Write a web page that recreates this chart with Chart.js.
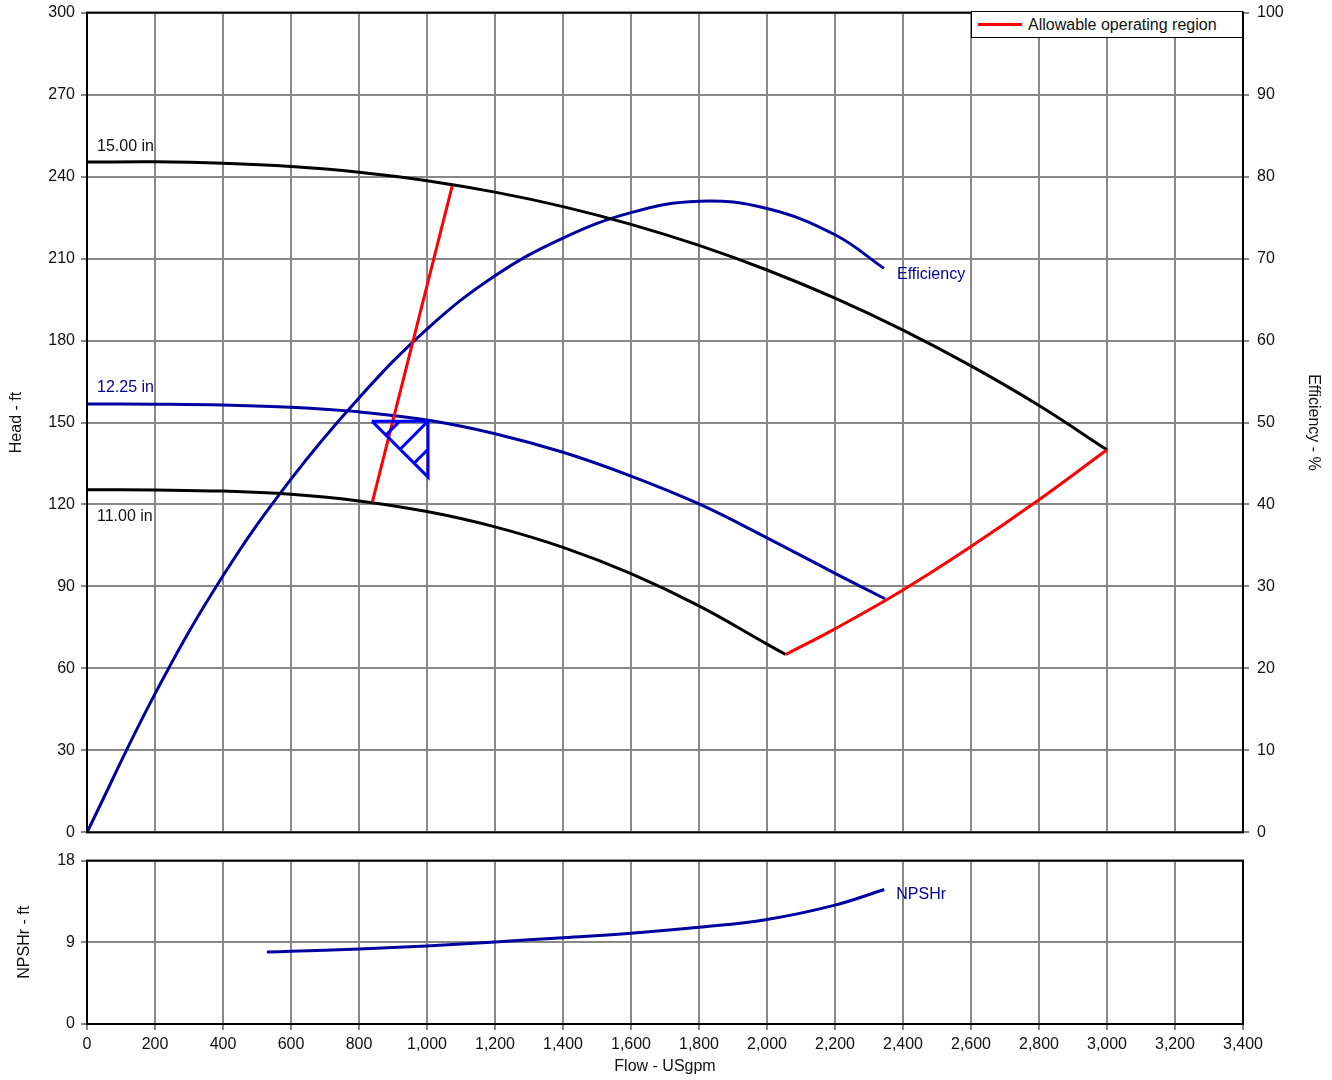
<!DOCTYPE html>
<html>
<head>
<meta charset="utf-8">
<script src="https://cdn.jsdelivr.net/npm/chart.js@4.4.1/dist/chart.umd.min.js"></script>
<style>
  html, body { margin: 0; padding: 0; background: #fff; }
  body { width: 1332px; height: 1080px; position: relative; overflow: hidden; font-family: "Liberation Sans", Arial, sans-serif; }
  #c1 { position: absolute; left: 0; top: -5px; }
  #c2 { position: absolute; left: 0; top: 845px; }
  #legend { position: absolute; left: 971px; top: 11px; width: 270px; height: 25px; border: 1.5px solid #000; background: #fff;
            font: 16px "Liberation Sans", Arial, sans-serif; color: #111; display: flex; align-items: center; box-sizing: content-box; }
  #legend .sw { display: inline-block; width: 44px; height: 3px; margin-left: 6px; margin-right: 6px; }
</style>
</head>
<body>
<canvas id="c1" width="1332" height="855"></canvas>
<canvas id="c2" width="1332" height="235"></canvas>
<div id="legend"></div>
<script>
// ---------------- DATA ----------------
const flowTicks = [0,200,400,600,800,1000,1200,1400,1600,1800,2000,2200,2400,2600,2800,3000,3200,3400];

const flow15 = [0,200,400,600,800,1000,1200,1400,1600,1800,2000,2200,2400,2600,2800,3000];
const head15 = [245.3,245.4,244.9,243.7,241.6,238.5,234.3,229.0,222.5,214.8,205.8,195.5,183.8,170.7,156.2,140.0];

const flow1225 = [0,200,400,600,800,1000,1200,1400,1600,1800,2000,2200,2347];
const head1225 = [156.8,156.7,156.4,155.6,153.9,150.9,145.9,139.1,130.4,120.2,107.8,94.8,85.5];

const flow11 = [0,200,400,600,800,1000,1200,1400,1600,1800,2000,2055];
const head11 = [125.4,125.3,124.9,123.7,121.3,117.4,111.8,104.3,94.7,82.9,68.9,65.1];

const effFlow = [0,200,400,600,800,1000,1200,1400,1600,1800,2000,2200,2344];
const effVals = [0,16.9,31.3,43.1,53.0,61.4,67.9,72.5,75.6,77.0,76.1,72.9,68.8];

const npshFlow = [529,600,800,1000,1200,1400,1600,1800,2000,2200,2345];
const npshVals = [7.94,8.01,8.27,8.6,9.04,9.51,9.99,10.65,11.52,13.1,14.82];

const regionLeftFlow = [839,1074];
const regionLeftHead = [120.8,236.5];
const regionRightFlow = [2055,2200,2400,2600,2800,3000];
const regionRightHead = [65.1,74.5,88.7,104.6,121.7,140.0];

// duty point symbol (triangle + hatch), null separates strokes
const dutyFlow = [838,1003,1003,838,838,879,920,920,921,1003,1003,962,1003];
const dutyHead = [150.5,150.5,130,150.5,null,145.4,150.5,null,140.2,150.5,null,135.1,140.2];

const headTicks = [0,30,60,90,120,150,180,210,240,270,300];
const effTicks = [0,10,20,30,40,50,60,70,80,90,100];
const npshTicks = [0,9,18];

const legendLabel = "Allowable operating region";

// ---------------- HELPERS ----------------
const pts = (xs, ys) => xs.map((x, i) => ({x: x, y: ys[i]}));
const FONT = "'Liberation Sans', Arial, sans-serif";
const NAVY = '#0000a0';
const GRID = '#888888';
Chart.defaults.font.family = FONT;
Chart.defaults.font.size = 16;
Chart.defaults.color = '#111';

const framePlugin = {
  id: 'frame',
  afterDraw(chart) {
    const a = chart.chartArea, ctx = chart.ctx;
    ctx.save();
    ctx.strokeStyle = '#000';
    ctx.lineWidth = 2;
    ctx.strokeRect(a.left, a.top, a.right - a.left, a.bottom - a.top);
    ctx.restore();
  }
};

// curve labels: anchored to a dataset point, with pixel offsets
const labelPlugin = {
  id: 'curveLabels',
  afterDatasetsDraw(chart, args, opts) {
    const ctx = chart.ctx;
    ctx.save();
    ctx.font = '16px ' + FONT;
    ctx.textBaseline = 'middle';
    ctx.textAlign = 'left';
    (opts.items || []).forEach(it => {
      const ds = chart.data.datasets[it.ds];
      const idx = it.end ? ds.data.length - 1 : 0;
      const p = ds.data[idx];
      const xs = chart.scales.x;
      const ys = chart.scales[ds.yAxisID || 'y'];
      const px = it.atAxis ? chart.chartArea.left : xs.getPixelForValue(p.x);
      const py = ys.getPixelForValue(p.y);
      ctx.fillStyle = it.color;
      ctx.fillText(it.text, px + it.dx, py + it.dy);
    });
    ctx.restore();
  }
};

const commonGrid = { color: GRID, lineWidth: 2, tickColor: GRID, tickLength: 6 };
const curve = { pointRadius: 0, borderWidth: 3, tension: 0.4, cubicInterpolationMode: 'default' };

// ---------------- MAIN CHART ----------------
const ds = [];
ds.push({ label: 'duty', data: pts(dutyFlow, dutyHead), yAxisID: 'y', borderColor: '#0000ff', borderWidth: 3,
          pointRadius: 0, tension: 0, spanGaps: false, borderJoinStyle: 'miter', order: 0 });
ds.push({ label: legendLabel, data: pts(regionLeftFlow, regionLeftHead), yAxisID: 'y', borderColor: '#ff0000',
          borderWidth: 3, pointRadius: 0, tension: 0, order: 1 });
ds.push(Object.assign({ label: legendLabel + ' ', data: pts(regionRightFlow, regionRightHead), yAxisID: 'y',
          borderColor: '#ff0000', order: 1 }, curve));
ds.push(Object.assign({ label: '15.00 in', data: pts(flow15, head15), yAxisID: 'y', borderColor: '#000', order: 2 }, curve));
ds.push(Object.assign({ label: '12.25 in', data: pts(flow1225, head1225), yAxisID: 'y', borderColor: NAVY, order: 2 }, curve));
ds.push(Object.assign({ label: '11.00 in', data: pts(flow11, head11), yAxisID: 'y', borderColor: '#000', order: 2 }, curve));
ds.push(Object.assign({ label: 'Efficiency', data: pts(effFlow, effVals), yAxisID: 'y2', borderColor: NAVY, order: 2 }, curve));

new Chart(document.getElementById('c1'), {
  type: 'line',
  data: { datasets: ds },
  options: {
    responsive: false, animation: false, devicePixelRatio: 1,
    layout: { padding: { top: 12, left: 0, right: 0, bottom: 0 } },
    plugins: {
      legend: { display: false }, tooltip: { enabled: false },
      curveLabels: { items: [
        { ds: 3, text: '15.00 in', color: '#111', dx: 10, dy: -15, atAxis: true },
        { ds: 4, text: '12.25 in', color: NAVY, dx: 10, dy: -16, atAxis: true },
        { ds: 5, text: '11.00 in', color: '#111', dx: 10, dy: 27, atAxis: true },
        { ds: 6, text: 'Efficiency', color: NAVY, dx: 13, dy: 6, end: true }
      ] }
    },
    scales: {
      x: {
        type: 'linear', min: 0, max: 3400,
        afterBuildTicks: s => { s.ticks = flowTicks.map(v => ({ value: v })); },
        ticks: { display: false },
        grid: { color: GRID, lineWidth: 2, drawTicks: false },
        border: { display: false },
        afterFit: s => { s.height = 13; }
      },
      y: {
        type: 'linear', position: 'left', min: 0, max: 300,
        afterBuildTicks: s => { s.ticks = headTicks.map(v => ({ value: v })); },
        ticks: { padding: 6, color: '#111', font: { size: 16 } },
        grid: commonGrid,
        border: { display: false },
        title: { display: true, text: 'Head - ft', color: '#111', font: { size: 16 }, padding: { top: 7, bottom: 0 } },
        afterFit: s => { s.width = 87; }
      },
      y2: {
        type: 'linear', position: 'right', min: 0, max: 100,
        afterBuildTicks: s => { s.ticks = effTicks.map(v => ({ value: v })); },
        ticks: { padding: 8, color: '#111', font: { size: 16 } },
        grid: { drawOnChartArea: false, color: GRID, tickColor: GRID, lineWidth: 2, tickLength: 6 },
        border: { display: false },
        title: { display: true, text: 'Efficiency - %', color: '#111', font: { size: 16 }, padding: { top: 9, bottom: 0 } },
        afterFit: s => { s.width = 89; }
      }
    }
  },
  plugins: [framePlugin, labelPlugin]
});

// ---------------- NPSH CHART ----------------
new Chart(document.getElementById('c2'), {
  type: 'line',
  data: { datasets: [
    Object.assign({ label: 'NPSHr', data: pts(npshFlow, npshVals), yAxisID: 'y', borderColor: NAVY }, curve)
  ] },
  options: {
    responsive: false, animation: false, devicePixelRatio: 1,
    layout: { padding: { top: 15, left: 0, right: 89, bottom: 0 } },
    plugins: {
      legend: { display: false }, tooltip: { enabled: false },
      curveLabels: { items: [ { ds: 0, text: 'NPSHr', color: NAVY, dx: 12, dy: 5, end: true } ] }
    },
    scales: {
      x: {
        type: 'linear', min: 0, max: 3400,
        afterBuildTicks: s => { s.ticks = flowTicks.map(v => ({ value: v })); },
        ticks: { autoSkip: false, maxRotation: 0, padding: 5, color: '#111', font: { size: 16 },
                 callback: v => Number(v).toLocaleString('en-US') },
        grid: commonGrid,
        border: { display: false },
        title: { display: true, text: 'Flow - USgpm', color: '#111', font: { size: 16 }, padding: { top: 0, bottom: 4 } },
        afterFit: s => { s.height = 56; }
      },
      y: {
        type: 'linear', position: 'left', min: 0, max: 18,
        afterBuildTicks: s => { s.ticks = npshTicks.map(v => ({ value: v })); },
        ticks: { padding: 6, color: '#111', font: { size: 16 } },
        grid: commonGrid,
        border: { display: false },
        title: { display: true, text: 'NPSHr - ft', color: '#111', font: { size: 16 }, padding: { top: 15, bottom: 0 } },
        afterFit: s => { s.width = 87; }
      }
    }
  },
  plugins: [framePlugin, labelPlugin]
});

// ---------------- LEGEND (HTML) ----------------
const lg = document.getElementById('legend');
const sw = document.createElement('span'); sw.className = 'sw'; sw.style.background = '#ff0000';
const tx = document.createElement('span'); tx.textContent = legendLabel;
lg.appendChild(sw); lg.appendChild(tx);
</script>
</body>
</html>
